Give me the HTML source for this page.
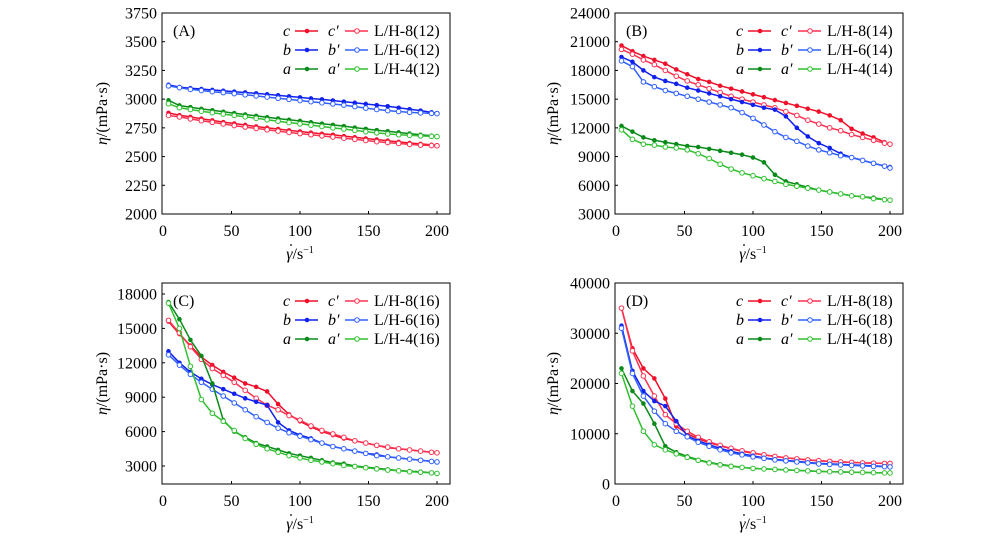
<!DOCTYPE html>
<html><head><meta charset="utf-8"><style>
html,body{margin:0;padding:0;background:#fff}
svg text{font-family:"Liberation Serif",serif;fill:#000}
</style></head><body>
<svg id="fig" width="1000" height="540" viewBox="0 0 1000 540" xmlns="http://www.w3.org/2000/svg"></svg>
<script>
const xValues=[4,12,20,28,36,44,52,60,68,76,84,92,100,108,116,124,132,140,148,156,164,172,180,188,196,200];
const xTicks=[0,50,100,150,200];
const seriesKeys=['c','cp','b','bp','a','ap'];
// Panel A
const A_c=[2880,2860,2845,2830,2815,2800,2788,2775,2762,2750,2740,2728,2718,2708,2698,2690,2678,2668,2657,2648,2638,2628,2618,2610,2602,2598];
const A_cp=[2858,2845,2828,2812,2798,2784,2770,2757,2745,2733,2722,2710,2700,2690,2680,2670,2660,2650,2640,2630,2622,2614,2606,2600,2596,2594];
const A_b=[3125,3105,3095,3088,3080,3073,3065,3058,3050,3042,3033,3024,3015,3006,2998,2988,2978,2968,2958,2948,2938,2925,2912,2900,2885,2878];
const A_bp=[3115,3100,3085,3075,3065,3057,3048,3038,3028,3018,3008,2998,2988,2978,2968,2958,2948,2935,2922,2910,2900,2892,2885,2880,2876,2874];
const A_a=[2990,2945,2930,2915,2903,2890,2878,2866,2854,2842,2831,2820,2810,2798,2786,2776,2765,2752,2741,2730,2720,2710,2700,2690,2682,2678];
const A_ap=[2960,2925,2910,2895,2882,2870,2858,2846,2833,2820,2808,2796,2785,2774,2762,2750,2740,2728,2717,2706,2697,2690,2685,2680,2676,2674];
const A_yTicks=[2000,2250,2500,2750,3000,3250,3500,3750];
// Panel B
const B_c=[20600,20000,19500,19100,18700,18100,17600,17100,16800,16400,16100,15800,15500,15200,14900,14600,14300,14000,13700,13300,12800,11900,11400,11000,10500,10300];
const B_cp=[20200,19700,19100,18600,18000,17400,16900,16500,16100,15700,15300,15000,14700,14400,14100,13700,13300,12800,12400,12000,11700,11300,11000,10700,10400,10300];
const B_b=[19400,18900,18000,17300,16900,16600,16200,15900,15600,15300,15000,14700,14400,14100,13900,13200,12000,11100,10400,9900,9300,8900,8600,8300,8000,7900];
const B_bp=[19000,18400,16800,16300,15900,15600,15300,15000,14700,14400,14100,13600,13000,12300,11600,11000,10600,10100,9700,9400,9100,8900,8600,8300,8000,7800];
const B_a=[12200,11600,11000,10700,10500,10300,10100,10000,9800,9600,9400,9200,8900,8400,7100,6400,6100,5800,5500,5300,5100,4900,4800,4700,4500,4450];
const B_ap=[11800,10800,10300,10200,10000,9900,9700,9300,8800,8200,7700,7300,7000,6700,6400,6100,5900,5700,5500,5300,5100,4900,4800,4600,4500,4450];
const B_yTicks=[3000,6000,9000,12000,15000,18000,21000,24000];
// Panel C
const C_c=[15600,14500,13500,12500,11800,11200,10700,10200,9900,9500,8400,7500,6900,6400,6000,5700,5400,5200,5000,4800,4600,4500,4400,4300,4200,4150];
const C_cp=[15700,14600,13400,12300,11500,10900,10300,9600,8900,8300,7900,7400,7000,6500,6100,5800,5500,5200,5000,4800,4650,4500,4400,4300,4200,4150];
const C_b=[13000,12000,11200,10600,10100,9700,9300,8900,8600,8300,6800,6100,5700,5400,5000,4700,4500,4300,4100,4000,3800,3700,3600,3500,3400,3350];
const C_bp=[12700,11800,11000,10300,9700,9100,8500,7900,7300,6800,6300,5900,5600,5300,5000,4700,4500,4300,4100,3900,3800,3700,3600,3500,3400,3350];
const C_a=[17300,15800,14000,12600,10200,7000,6000,5500,5000,4700,4400,4100,3900,3700,3500,3300,3200,3000,2900,2800,2700,2600,2550,2500,2400,2350];
const C_ap=[17200,15000,11700,8800,7600,6900,6100,5400,4900,4500,4200,3900,3700,3500,3350,3200,3050,2950,2850,2750,2650,2580,2500,2450,2400,2350];
const C_yTicks=[3000,6000,9000,12000,15000,18000];
// Panel D
const D_c=[35000,27000,23000,21000,17000,11500,10000,9000,8200,7600,7000,6500,6100,5800,5500,5200,5000,4800,4600,4500,4400,4300,4200,4150,4100,4050];
const D_cp=[35000,26500,21500,17500,13800,12000,10500,9300,8400,7700,7100,6600,6200,5800,5500,5200,5000,4800,4650,4500,4400,4300,4200,4150,4100,4100];
const D_b=[31500,22500,18500,16500,15500,12500,9600,8600,7800,7100,6500,6000,5600,5200,4900,4700,4500,4300,4100,4000,3900,3800,3700,3600,3500,3450];
const D_bp=[31000,22000,17500,14500,12000,10500,9400,8300,7500,6800,6200,5800,5400,5100,4800,4600,4400,4200,4000,3900,3800,3700,3600,3500,3450,3400];
const D_a=[23000,18500,16000,12000,7500,6300,5500,4800,4300,3900,3600,3300,3100,3000,2900,2800,2700,2600,2500,2450,2400,2350,2300,2250,2200,2200];
const D_ap=[22000,15500,10500,7800,6800,6000,5300,4700,4200,3800,3500,3300,3100,3000,2900,2800,2700,2600,2500,2450,2400,2350,2300,2250,2200,2200];
const D_yTicks=[0,10000,20000,30000,40000];

const colors={c:'#f0102a',cp:'#ff3050',b:'#1020ee',bp:'#3060ff',a:'#0a8a1a',ap:'#30c030'};
const NS='http://www.w3.org/2000/svg';
const svg=document.getElementById('fig');
function mk(tag,attrs,parent){const e=document.createElementNS(NS,tag);for(const k in attrs)e.setAttribute(k,attrs[k]);(parent||svg).appendChild(e);return e;}

const panels=[
 {id:'a',label:'(A)',num:'12',dx:0,dy:0,ymin:2000,ymax:3750,pMin:214,pMax:13,ticks:A_yTicks,data:{c:A_c,cp:A_cp,b:A_b,bp:A_bp,a:A_a,ap:A_ap}},
 {id:'b',label:'(B)',num:'14',dx:453,dy:0,ymin:3000,ymax:24000,pMin:214,pMax:13,ticks:B_yTicks,data:{c:B_c,cp:B_cp,b:B_b,bp:B_bp,a:B_a,ap:B_ap}},
 {id:'c',label:'(C)',num:'16',dx:0,dy:270,ymin:3000,ymax:18000,pMin:466,pMax:294,ticks:C_yTicks,data:{c:C_c,cp:C_cp,b:C_b,bp:C_bp,a:C_a,ap:C_ap}},
 {id:'d',label:'(D)',num:'18',dx:453,dy:270,ymin:0,ymax:40000,pMin:484,pMax:283,ticks:D_yTicks,data:{c:D_c,cp:D_cp,b:D_b,bp:D_bp,a:D_a,ap:D_ap}}
];

panels.forEach(p=>{
  const g=mk('g',{});
  
  
  const bx0=162+p.dx, bx1=450+p.dx, by0=13+p.dy, by1=214+p.dy;
  const xs=v=>163+p.dx+(v/200)*(437-163);
  const ys=v=>p.pMin+(v-p.ymin)/(p.ymax-p.ymin)*(p.pMax-p.pMin);
  const frame=mk('rect',{x:bx0,y:by0,width:bx1-bx0,height:by1-by0,fill:'none',stroke:'#000','stroke-width':1},g);
  
  
  xTicks.forEach(t=>{
    const x=xs(t);
    if(t>0) mk('line',{x1:x,y1:by1,x2:x,y2:by1-3,stroke:'#000'},g);
    const tx=mk('text',{x:x,y:by1+22,'font-size':16,'text-anchor':'middle'},g);
    tx.textContent=t;
    
    
  });
  p.ticks.forEach(t=>{
    const y=ys(t);
    if(y<by1-1) mk('line',{x1:bx0,y1:y,x2:bx0+3,y2:y,stroke:'#000'},g);
    const ty=mk('text',{x:bx0-5,y:y+5.5,'font-size':16,'text-anchor':'end'},g);
    ty.textContent=t;
    
    
  });
  const xl=mk('text',{x:300+p.dx,y:by1+45,'font-size':16,'text-anchor':'middle'},g);
  xl.innerHTML='<tspan font-style="italic">γ</tspan>/s<tspan font-size="10" dy="-6">−1</tspan>';
  
  
  const dot=mk('circle',{cx:291+p.dx,cy:by1+31,r:0.9,fill:'#000'},g);
  
  
  const yl=mk('text',{x:0,y:0,'font-size':16,'text-anchor':'middle',transform:`translate(${(p.dx?558:107)},${(by0+by1)/2}) rotate(-90)`},g);
  yl.innerHTML='<tspan font-style="italic">η</tspan>/(mPa·s)';
  
  
  const pl=mk('text',{x:173+p.dx,y:by0+23,'font-size':16},g);
  pl.textContent=p.label;
  
  
  seriesKeys.forEach(k=>{
    const vals=p.data[k];
    const sg=mk('g',{},g);
    
    
    const pts=vals.map((v,i)=>xs(xValues[i]).toFixed(1)+','+ys(v).toFixed(1)).join(' ');
    mk('polyline',{points:pts,fill:'none',stroke:colors[k],'stroke-width':1.5},sg);
    const open=k.endsWith('p');
    vals.forEach((v,i)=>{
      const m=mk('circle',{cx:xs(xValues[i]),cy:ys(v),r:open?2.3:1.8,fill:open?'#fff':colors[k],stroke:colors[k],'stroke-width':1},sg);
      
      
    });
  });
  const lg=mk('g',{},g);
  
  
  const rows=[['c','cp','8'],['b','bp','6'],['a','ap','4']];
  rows.forEach((r,i)=>{
    const y=31+19*i+p.dy, ox=p.dx;
    const t1=mk('text',{x:283+ox,y:y+5,'font-size':16,'font-style':'italic'},lg);t1.textContent=r[0];
    mk('line',{x1:295+ox,y1:y,x2:318+ox,y2:y,stroke:colors[r[0]],'stroke-width':1.5},lg);
    mk('circle',{cx:307+ox,cy:y,r:1.8,fill:colors[r[0]],stroke:colors[r[0]]},lg);
    const t2=mk('text',{x:328+ox,y:y+5,'font-size':16,'font-style':'italic'},lg);t2.textContent=r[0]+'′';
    mk('line',{x1:345+ox,y1:y,x2:368+ox,y2:y,stroke:colors[r[1]],'stroke-width':1.5},lg);
    mk('circle',{cx:357+ox,cy:y,r:2.3,fill:'#fff',stroke:colors[r[1]]},lg);
    const t3=mk('text',{x:374+ox,y:y+5,'font-size':16},lg);t3.textContent='L/H-'+r[2]+'('+p.num+')';
    
    
  });
});
</script>
</body></html>
